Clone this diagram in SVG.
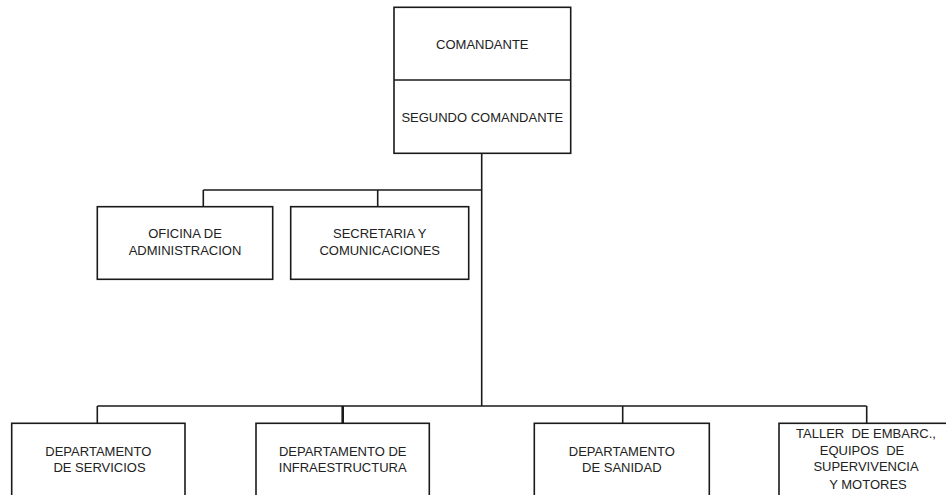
<svg xmlns="http://www.w3.org/2000/svg" width="946" height="495" viewBox="0 0 946 495">
<style>
.box{fill:#fff;stroke:#1a1a1a;stroke-width:1.6}
.ln{fill:none;stroke:#1a1a1a;stroke-width:1.6}
text{font-family:"Liberation Sans",Arial,sans-serif;font-size:13px;fill:#222;text-anchor:middle}
</style>
<rect width="946" height="495" fill="#fff"/>
<g id="connectors">
<path class="ln" d="M481.7 153.3V406"/>
<path class="ln" d="M203.3 190H481.7M203.3 190V206.7M377.7 190V206.7"/>
<path class="ln" d="M97.3 406H866.7M97.3 406V423.3M622.7 406V423.3M866.7 406V423.3"/>
<path class="ln" style="stroke-width:2.6" d="M342.7 406V423.3"/>
</g>
<g id="comandante">
<rect class="box" x="394" y="7.3" width="176.7" height="146"/>
<line class="ln" x1="394" y1="80" x2="570.7" y2="80"/>
<text x="482.3" y="49">COMANDANTE</text>
<text x="482.3" y="121.5">SEGUNDO COMANDANTE</text>
</g>
<g id="oficina">
<rect class="box" x="97.3" y="206.7" width="175.4" height="72.6"/>
<text x="185" y="238">OFICINA DE</text>
<text x="185" y="255">ADMINISTRACION</text>
</g>
<g id="secretaria">
<rect class="box" x="290.7" y="206.7" width="178" height="72.6"/>
<text x="379.7" y="238">SECRETARIA Y</text>
<text x="379.7" y="255">COMUNICACIONES</text>
</g>
<g id="servicios">
<rect class="box" x="11.7" y="423.3" width="173.3" height="90"/>
<text x="98.3" y="456">DEPARTAMENTO</text>
<text x="99.5" y="472.3">DE SERVICIOS</text>
</g>
<g id="infraestructura">
<rect class="box" x="256" y="423.3" width="173.3" height="90"/>
<text x="342.7" y="456">DEPARTAMENTO DE</text>
<text x="342.7" y="472.3">INFRAESTRUCTURA</text>
</g>
<g id="sanidad">
<rect class="box" x="534.3" y="423.3" width="175" height="90"/>
<text x="621.8" y="456">DEPARTAMENTO</text>
<text x="621.8" y="472.3">DE SANIDAD</text>
</g>
<g id="taller">
<rect class="box" x="779" y="423.3" width="175" height="90"/>
<text x="866" y="437.8" xml:space="preserve">TALLER  DE EMBARC.,</text>
<text x="862" y="454.6" xml:space="preserve">EQUIPOS  DE</text>
<text x="866" y="471.4">SUPERVIVENCIA</text>
<text x="868" y="488.6">Y MOTORES</text>
</g>
</svg>
